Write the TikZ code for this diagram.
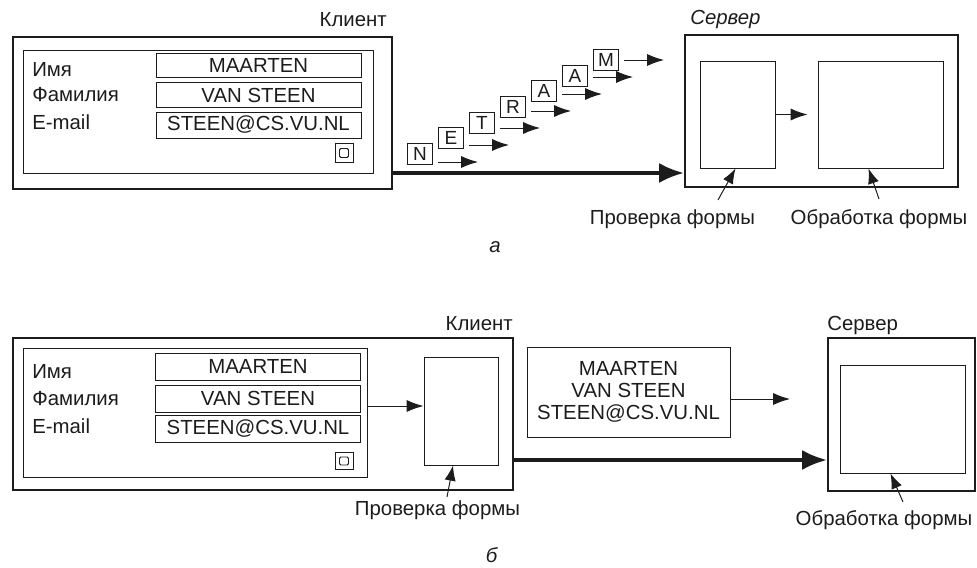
\documentclass[tikz,border=0pt]{standalone}
\usepackage{fontspec}
\setmainfont{Liberation Sans}
\usetikzlibrary{arrows.meta, calc}
\definecolor{ink}{HTML}{1C1C1C}
\newcommand{\pxl}{0.25mm}
\tikzset{
  outerbox/.style={rectangle, draw=ink, line width=1.4pt, inner sep=0pt},
  formbox/.style={rectangle, draw=ink, line width=0.7pt, inner sep=0pt},
  field/.style={formbox, minimum width=205*\pxl, text=ink},
  btnbox/.style={formbox, minimum width=18*\pxl},
  letter/.style={rectangle, draw=ink, line width=0.7pt, inner sep=0pt, text=ink,
                 minimum width=25*\pxl, minimum height=21*\pxl, font=\fontsize{13.5}{15}\selectfont},
  msgbox/.style={formbox, align=center, text=ink, font=\fontsize{14.5}{15.6}\selectfont},
  lbl/.style={text=ink, inner sep=0pt},
  anno/.style={text=ink, inner sep=0pt, font=\fontsize{14.5}{17}\selectfont\itshape},
  small/.style={-{Latex[length=4.2mm, width=3.0mm]}, draw=ink, line width=0.7pt},
  bigarrow/.style={-{Latex[length=6.2mm, width=5.0mm]}, draw=ink, line width=2.6pt},
  ptr/.style={-{Latex[length=3.8mm, width=2.8mm]}, draw=ink, line width=0.7pt},
}

\begin{document}
\begin{tikzpicture}[x=0.25mm, y=-0.25mm, font=\fontsize{14.5}{17}\selectfont]
  \useasboundingbox (0,0) rectangle (977,568);

  % --- (a): client sends the form character by character ---
  \node[outerbox, minimum width=379*\pxl, minimum height=152*\pxl] (cli1) at (202.5,113) {};
  \node[formbox, minimum width=350*\pxl, minimum height=123*\pxl] (form1) at (198,111.5) {};
  \node[field, minimum height=24*\pxl] (first1) at (258.5,65) {MAARTEN\hspace{12pt}};
  \node[field, minimum height=25*\pxl] (last1)  at (258.5,95) {VAN STEEN\hspace{6pt}};
  \node[field, minimum height=26*\pxl] (mail1)  at (258.5,125) {STEEN@CS.VU.NL};
  \node[btnbox, minimum height=19*\pxl] (btn1) at (344,153) {};
  \node[formbox, rounded corners=1pt, minimum width=9*\pxl, minimum height=9*\pxl] (btn1in) at (btn1) {};
  \node[lbl, anchor=base west] at (32,77)  {Имя};
  \node[lbl, anchor=base west] at (32,102) {Фамилия};
  \node[lbl, anchor=base west] at (32,129) {E-mail};
  \node[lbl, anchor=base east] at (387,27) {Клиент};

  \foreach \ch [count=\i from 0] in {N,E,T,R,A,A,M} {
    \node[letter] (ch\i) at (420+31*\i, 154-15.7*\i) {\ch};
    \draw[small] ([shift={(18,8-1.3*\i)}]ch\i.center) -- ++(40,0);
  }

  \node[outerbox, minimum width=273*\pxl, minimum height=152*\pxl] (srv1) at (821.5,111) {};
  \node[formbox, minimum width=75*\pxl, minimum height=107*\pxl] (chk1) at (737.5,114.5) {};
  \node[formbox, minimum width=125*\pxl, minimum height=107*\pxl] (proc1) at (880.5,114.5) {};
  \draw[small, shorten >=2.5mm] (chk1) -- (proc1);
  \node[anno, anchor=base west] at (690,25) {Сервер};

  \coordinate (go1) at ([yshift=17*\pxl]cli1.south east);
  \draw[bigarrow] (go1) -- (go1 -| srv1.west);

  \node[lbl, anchor=base] (lchk1)  at (672.5,225) {Проверка формы};
  \node[lbl, anchor=base] (lproc1) at (879,225) {Обработка формы};
  \coordinate (p1) at (718,200);
  \coordinate (p2) at (879,199);
  \draw[ptr] (p1) -- ([xshift=-2*\pxl]chk1.south);
  \draw[ptr] (p2) -- ([xshift=-12*\pxl]proc1.south);
  \node[anno, anchor=base] at (495,252) {а};

  % --- (б): client checks the form, sends one message ---
  \node[outerbox, minimum width=500*\pxl, minimum height=152*\pxl] (cli2) at (263,414) {};
  \node[formbox, minimum width=344*\pxl, minimum height=129*\pxl] (form2) at (195,412.5) {};
  \node[field, minimum height=27*\pxl] (first2) at (258,366.5) {MAARTEN\hspace{12pt}};
  \node[field, minimum height=27*\pxl] (last2)  at (258,398.5) {VAN STEEN\hspace{6pt}};
  \node[field, minimum height=27*\pxl] (mail2)  at (258,429) {STEEN@CS.VU.NL};
  \node[btnbox, minimum height=17*\pxl] (btn2) at (344,461) {};
  \node[formbox, rounded corners=1pt, minimum width=9*\pxl, minimum height=8*\pxl] (btn2in) at (btn2) {};
  \node[lbl, anchor=base west] at (32,378) {Имя};
  \node[lbl, anchor=base west] at (32,405) {Фамилия};
  \node[lbl, anchor=base west] at (32,433) {E-mail};
  \node[lbl, anchor=base east] at (513,330) {Клиент};

  \node[formbox, minimum width=74*\pxl, minimum height=108*\pxl] (chk2) at (461,411) {};
  \coordinate (m2) at (367,406);
  \draw[small] (m2) -- (m2 -| chk2.west);
  \node[lbl, anchor=base] (lchk2) at (437.5,515) {Проверка формы};
  \coordinate (p3) at (447,497);
  \draw[ptr] (p3) -- ([xshift=-8*\pxl]chk2.south);

  \node[msgbox, minimum width=203*\pxl, minimum height=90*\pxl] (msg) at (628.5,392) {MAARTEN\\VAN STEEN\\STEEN@CS.VU.NL};
  \coordinate (d2) at (790,399);
  \draw[small] (msg.east |- d2) -- (d2);

  \node[outerbox, minimum width=147*\pxl, minimum height=153*\pxl] (srv2) at (901.5,414.5) {};
  \node[formbox, minimum width=125*\pxl, minimum height=108*\pxl] (proc2) at (902.5,419) {};
  \node[lbl, anchor=base west] at (827,330) {Сервер};

  \coordinate (go2) at ([yshift=31*\pxl]cli2.south east);
  \draw[bigarrow] (go2) -- (go2 -| srv2.west);

  \node[lbl, anchor=base] (lproc2) at (884,525) {Обработка формы};
  \coordinate (p4) at (903,502);
  \draw[ptr] (p4) -- ([xshift=-12*\pxl]proc2.south);
  \node[anno, anchor=base] at (491.5,562) {б};
\end{tikzpicture}
\end{document}
